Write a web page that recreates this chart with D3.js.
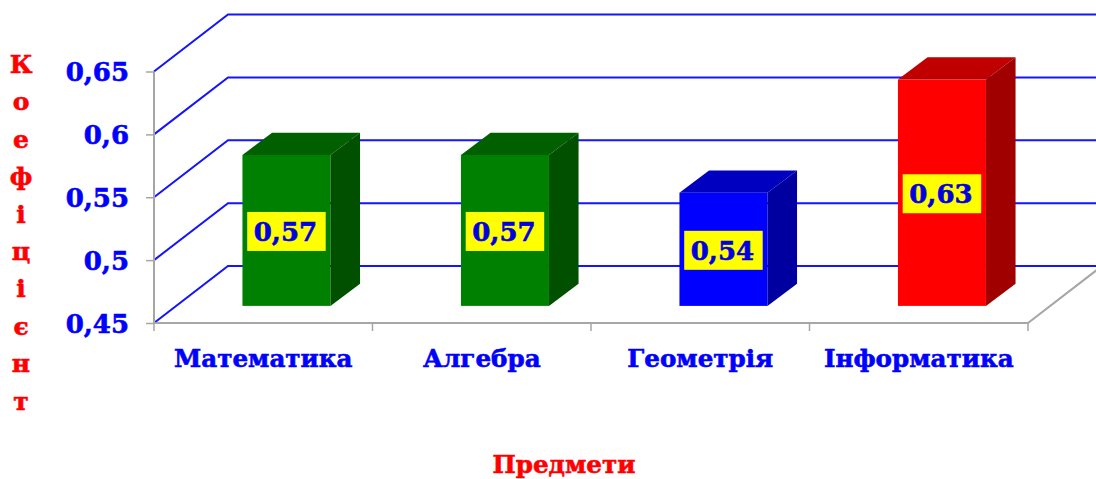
<!DOCTYPE html>
<html>
<head>
<meta charset="utf-8">
<script src="https://cdn.jsdelivr.net/npm/d3@7"></script>
<style>
  html, body { margin: 0; padding: 0; background: #fff; overflow: hidden; }
  svg { display: block; }
  text { font-family: "DejaVu Serif", serif; font-weight: 700; stroke-width: 0.6px; }
</style>
</head>
<body>
<div id="chart"></div>
<script>
const categories = ["Математика", "Алгебра", "Геометрія", "Інформатика"];
const values = [0.57, 0.57, 0.54, 0.63];
const valueLabels = ["0,57", "0,57", "0,54", "0,63"];
const frontColors = ["#008000", "#008000", "#0000ff", "#ff0000"];
const topColors = ["#006000", "#006000", "#0000c0", "#c00000"];
const sideColors = ["#005000", "#005000", "#0000a0", "#a00000"];
const tickValues = [0.45, 0.5, 0.55, 0.6, 0.65];
const tickLabels = ["0,45", "0,5", "0,55", "0,6", "0,65"];
const yTitle = ["К", "о", "е", "ф", "і", "ц", "і", "є", "н", "т"];

const width = 1096, height = 479;
const depthX = 74, depthY = -57; // depth of the 3d box
const gridColor = "#1414ff", axisColor = "#a6a6a6";

const svg = d3.select("#chart").append("svg")
  .attr("width", width)
  .attr("height", height);

const x = d3.scaleBand().domain(categories).range([154, 1028]);
const y = d3.scaleLinear().domain([0.45, 0.65]).range([323, 71.5]);
const x0 = x.range()[0], x1 = x.range()[1];

// ----- Gridlines, side wall then back wall -----
svg.selectAll(".grid")
  .data(tickValues)
  .enter()
  .append("path")
  .attr("class", "grid")
  .attr("d", t => d3.line()([[x0, y(t)], [x0 + depthX, y(t) + depthY], [width, y(t) + depthY]]))
  .attr("fill", "none")
  .attr("stroke", gridColor)
  .attr("stroke-width", 2);

// ----- Walls edge and floor -----
svg.append("path")
  .attr("d", d3.line()([[x0, y(0.65)], [x0, y(0.45)], [x1, y(0.45)], [x1 + depthX, y(0.45) + depthY]]))
  .attr("fill", "none")
  .attr("stroke", axisColor)
  .attr("stroke-width", 2);

// ----- Y Axis -----
const yAxis = d3.axisLeft(y).tickValues(tickValues).tickSize(8).tickFormat((d, i) => tickLabels[i]);
const yG = svg.append("g").attr("transform", `translate(${x0},0)`).call(yAxis);
yG.select(".domain").remove();
yG.selectAll("line").attr("stroke", axisColor).attr("stroke-width", 1.5);
yG.selectAll("text")
  .attr("x", -25)
  .attr("dy", "0.36em")
  .style("font-size", "26px")
  .style("fill", "#0000ff")
  .style("stroke", "#0000ff");

// ----- X Axis -----
const xAxis = d3.axisBottom(x).tickSize(0);
const xG = svg.append("g").attr("transform", `translate(0,${y(0.45)})`).call(xAxis);
xG.select(".domain").remove();
xG.selectAll("text")
  .attr("y", 35)
  .attr("dy", "0.36em")
  .style("font-size", "24.6px")
  .style("fill", "#0000ff")
  .style("stroke", "#0000ff");

// tick marks between categories
svg.selectAll(".sep")
  .data([x0].concat(categories.map(d => x(d) + x.bandwidth())))
  .enter()
  .append("line")
  .attr("class", "sep")
  .attr("x1", d => d)
  .attr("x2", d => d)
  .attr("y1", y(0.45))
  .attr("y2", y(0.45) + 8)
  .attr("stroke", axisColor)
  .attr("stroke-width", 1.5);

// ----- Bars -----
// front face sits 0.3 of the way into the depth, side face takes 0.4 of it
const barW = 88;
const frontDx = depthX * 0.3 + 1, frontDy = depthY * 0.3;
const sideDx = depthX * 0.4, sideDy = depthY * 0.39;

const barX = d => x(d) + (x.bandwidth() - barW) / 2 + frontDx;
const barTop = (d, i) => y(values[i]) + frontDy;
const barBottom = y(0.45) + frontDy;

const bars = svg.selectAll(".bar")
  .data(categories)
  .enter()
  .append("g")
  .attr("class", "bar");

bars.append("rect")
  .attr("x", d => barX(d))
  .attr("y", barTop)
  .attr("width", barW)
  .attr("height", (d, i) => barBottom - barTop(d, i))
  .attr("fill", (d, i) => frontColors[i]);

bars.append("path")
  .attr("d", (d, i) => {
    const l = barX(d), t = barTop(d, i);
    return `M${l},${t}L${l + sideDx},${t + sideDy}L${l + barW + sideDx},${t + sideDy}L${l + barW},${t}Z`;
  })
  .attr("fill", (d, i) => topColors[i]);

bars.append("path")
  .attr("d", (d, i) => {
    const r = barX(d) + barW, t = barTop(d, i);
    return `M${r},${t}L${r + sideDx},${t + sideDy}L${r + sideDx},${barBottom + sideDy}L${r},${barBottom}Z`;
  })
  .attr("fill", (d, i) => sideColors[i]);

// value labels on yellow boxes
const boxW = 78.5, boxH = 39;
bars.append("rect")
  .attr("x", d => barX(d) + (barW - boxW) / 2)
  .attr("y", (d, i) => (barTop(d, i) + barBottom) / 2 - boxH / 2 + 1)
  .attr("width", boxW)
  .attr("height", boxH)
  .attr("fill", "#ffff00");

bars.append("text")
  .attr("x", d => barX(d) + barW / 2 - 1)
  .attr("y", (d, i) => (barTop(d, i) + barBottom) / 2 + 1)
  .attr("dy", "0.36em")
  .attr("text-anchor", "middle")
  .style("font-size", "26px")
  .style("fill", "#0000e0")
  .style("stroke", "#0000e0")
  .text((d, i) => valueLabels[i]);

// ----- Axis titles -----
svg.selectAll(".ytitle")
  .data(yTitle)
  .enter()
  .append("text")
  .attr("class", "ytitle")
  .attr("x", 21)
  .attr("y", (d, i) => 64 + i * 37.4)
  .attr("dy", "0.36em")
  .attr("text-anchor", "middle")
  .style("font-size", "25px")
  .style("fill", "#ff0000")
  .style("stroke", "#ff0000")
  .text(d => d);

svg.append("text")
  .attr("x", 564)
  .attr("y", 464)
  .attr("dy", "0.36em")
  .attr("text-anchor", "middle")
  .style("font-size", "24.6px")
  .style("fill", "#ff0000")
  .style("stroke", "#ff0000")
  .text("Предмети");
</script>
</body>
</html>
